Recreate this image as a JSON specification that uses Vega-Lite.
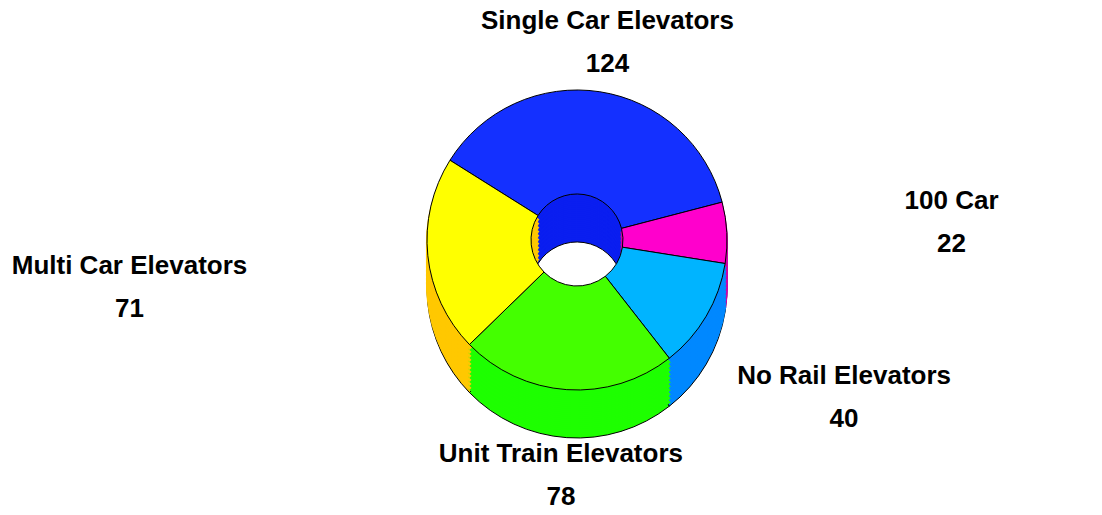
{
  "$schema": "https://vega.github.io/schema/vega-lite/v6.json",
  "width": 1050,
  "height": 480,
  "autosize": "none",
  "padding": {"left": 52, "top": 0, "right": 0, "bottom": 35},
  "background": "white",
  "config": {"view": {"stroke": null}},
  "data": {
    "values": [
      {"category": "Single Car Elevators", "value": 124, "order": 1, "lines": ["Single Car Elevators", "124"]},
      {"category": "100 Car", "value": 22, "order": 2, "lines": ["100 Car", "22"]},
      {"category": "No Rail Elevators", "value": 40, "order": 3, "lines": ["No Rail Elevators", "40"]},
      {"category": "Unit Train Elevators", "value": 78, "order": 4, "lines": ["Unit Train Elevators", "78"]},
      {"category": "Multi Car Elevators", "value": 71, "order": 5, "lines": ["Multi Car Elevators", "71"]}
    ]
  },
  "layer": [
    {"mark": {"type": "arc", "outerRadius": 150, "innerRadius": 46, "yOffset": 48, "stroke": "black", "strokeWidth": 1},
     "encoding": {"theta": {"field": "value", "type": "quantitative", "stack": true, "scale": {"range": [-1.01, 5.273]}}, "order": {"field": "order"},
       "fill": {"field": "category", "type": "nominal", "legend": null, "scale": {"domain": ["Single Car Elevators","100 Car","No Rail Elevators","Unit Train Elevators","Multi Car Elevators"], "range": ["#0A1EF0","#CC00AA","#0088FF","#1EFF00","#FFC800"]}}}},
    {"mark": {"type": "arc", "outerRadius": 150, "innerRadius": 46, "yOffset": 44, "strokeWidth": 2},
     "encoding": {"theta": {"field": "value", "type": "quantitative", "stack": true, "scale": {"range": [-1.01, 5.273]}}, "order": {"field": "order"},
       "fill": {"field": "category", "type": "nominal", "legend": null},
       "stroke": {"field": "category", "type": "nominal", "legend": null, "scale": {"domain": ["Single Car Elevators","100 Car","No Rail Elevators","Unit Train Elevators","Multi Car Elevators"], "range": ["#0A1EF0","#CC00AA","#0088FF","#1EFF00","#FFC800"]}}}},
    {"mark": {"type": "arc", "outerRadius": 150, "innerRadius": 46, "yOffset": 40, "strokeWidth": 2},
     "encoding": {"theta": {"field": "value", "type": "quantitative", "stack": true}, "order": {"field": "order"},
       "fill": {"field": "category", "type": "nominal", "legend": null}, "stroke": {"field": "category", "type": "nominal", "legend": null}}},
    {"mark": {"type": "arc", "outerRadius": 150, "innerRadius": 46, "yOffset": 36, "strokeWidth": 2},
     "encoding": {"theta": {"field": "value", "type": "quantitative", "stack": true}, "order": {"field": "order"},
       "fill": {"field": "category", "type": "nominal", "legend": null}, "stroke": {"field": "category", "type": "nominal", "legend": null}}},
    {"mark": {"type": "arc", "outerRadius": 150, "innerRadius": 46, "yOffset": 32, "strokeWidth": 2},
     "encoding": {"theta": {"field": "value", "type": "quantitative", "stack": true}, "order": {"field": "order"},
       "fill": {"field": "category", "type": "nominal", "legend": null}, "stroke": {"field": "category", "type": "nominal", "legend": null}}},
    {"mark": {"type": "arc", "outerRadius": 150, "innerRadius": 46, "yOffset": 28, "strokeWidth": 2},
     "encoding": {"theta": {"field": "value", "type": "quantitative", "stack": true}, "order": {"field": "order"},
       "fill": {"field": "category", "type": "nominal", "legend": null}, "stroke": {"field": "category", "type": "nominal", "legend": null}}},
    {"mark": {"type": "arc", "outerRadius": 150, "innerRadius": 46, "yOffset": 24, "strokeWidth": 2},
     "encoding": {"theta": {"field": "value", "type": "quantitative", "stack": true}, "order": {"field": "order"},
       "fill": {"field": "category", "type": "nominal", "legend": null}, "stroke": {"field": "category", "type": "nominal", "legend": null}}},
    {"mark": {"type": "arc", "outerRadius": 150, "innerRadius": 46, "yOffset": 20, "strokeWidth": 2},
     "encoding": {"theta": {"field": "value", "type": "quantitative", "stack": true}, "order": {"field": "order"},
       "fill": {"field": "category", "type": "nominal", "legend": null}, "stroke": {"field": "category", "type": "nominal", "legend": null}}},
    {"mark": {"type": "arc", "outerRadius": 150, "innerRadius": 46, "yOffset": 16, "strokeWidth": 2},
     "encoding": {"theta": {"field": "value", "type": "quantitative", "stack": true}, "order": {"field": "order"},
       "fill": {"field": "category", "type": "nominal", "legend": null}, "stroke": {"field": "category", "type": "nominal", "legend": null}}},
    {"mark": {"type": "arc", "outerRadius": 150, "innerRadius": 46, "yOffset": 12, "strokeWidth": 2},
     "encoding": {"theta": {"field": "value", "type": "quantitative", "stack": true}, "order": {"field": "order"},
       "fill": {"field": "category", "type": "nominal", "legend": null}, "stroke": {"field": "category", "type": "nominal", "legend": null}}},
    {"mark": {"type": "arc", "outerRadius": 150, "innerRadius": 46, "yOffset": 8, "strokeWidth": 2},
     "encoding": {"theta": {"field": "value", "type": "quantitative", "stack": true}, "order": {"field": "order"},
       "fill": {"field": "category", "type": "nominal", "legend": null}, "stroke": {"field": "category", "type": "nominal", "legend": null}}},
    {"mark": {"type": "arc", "outerRadius": 150, "innerRadius": 46, "yOffset": 4, "strokeWidth": 2},
     "encoding": {"theta": {"field": "value", "type": "quantitative", "stack": true}, "order": {"field": "order"},
       "fill": {"field": "category", "type": "nominal", "legend": null}, "stroke": {"field": "category", "type": "nominal", "legend": null}}},
    {"mark": {"type": "arc", "outerRadius": 150, "innerRadius": 46, "stroke": "black", "strokeWidth": 1},
     "encoding": {"theta": {"field": "value", "type": "quantitative", "stack": true}, "order": {"field": "order"},
       "color": {"field": "category", "type": "nominal", "legend": null, "scale": {"domain": ["Single Car Elevators","100 Car","No Rail Elevators","Unit Train Elevators","Multi Car Elevators"], "range": ["#1430FF","#FF00CC","#00B4FF","#44FF00","#FFFF00"]}}}},
    {"mark": {"type": "text", "radius": 200, "dy": -21, "fontSize": 26, "fontWeight": "bold", "font": "Liberation Sans", "lineHeight": 43, "baseline": "middle", "color": "black"},
     "encoding": {"theta": {"field": "value", "type": "quantitative", "stack": true}, "order": {"field": "order"},
       "text": {"condition": {"test": "datum.category === 'Single Car Elevators'", "field": "lines"}, "value": ""}}},
    {"mark": {"type": "text", "radius": 375, "dy": -21, "fontSize": 26, "fontWeight": "bold", "font": "Liberation Sans", "lineHeight": 43, "baseline": "middle", "color": "black"},
     "encoding": {"theta": {"field": "value", "type": "quantitative", "stack": true}, "order": {"field": "order"},
       "text": {"condition": {"test": "datum.category === '100 Car'", "field": "lines"}, "value": ""}}},
    {"mark": {"type": "text", "radius": 310, "dy": -21, "fontSize": 26, "fontWeight": "bold", "font": "Liberation Sans", "lineHeight": 43, "baseline": "middle", "color": "black"},
     "encoding": {"theta": {"field": "value", "type": "quantitative", "stack": true}, "order": {"field": "order"},
       "text": {"condition": {"test": "datum.category === 'No Rail Elevators'", "field": "lines"}, "value": ""}}},
    {"mark": {"type": "text", "radius": 236, "dy": -21, "fontSize": 26, "fontWeight": "bold", "font": "Liberation Sans", "lineHeight": 43, "baseline": "middle", "color": "black"},
     "encoding": {"theta": {"field": "value", "type": "quantitative", "stack": true}, "order": {"field": "order"},
       "text": {"condition": {"test": "datum.category === 'Unit Train Elevators'", "field": "lines"}, "value": ""}}},
    {"mark": {"type": "text", "radius": 450, "dy": -21, "fontSize": 26, "fontWeight": "bold", "font": "Liberation Sans", "lineHeight": 43, "baseline": "middle", "color": "black"},
     "encoding": {"theta": {"field": "value", "type": "quantitative", "stack": true}, "order": {"field": "order"},
       "text": {"condition": {"test": "datum.category === 'Multi Car Elevators'", "field": "lines"}, "value": ""}}}
  ],
  "resolve": {"scale": {"color": "independent", "fill": "shared", "stroke": "shared"}}
}
